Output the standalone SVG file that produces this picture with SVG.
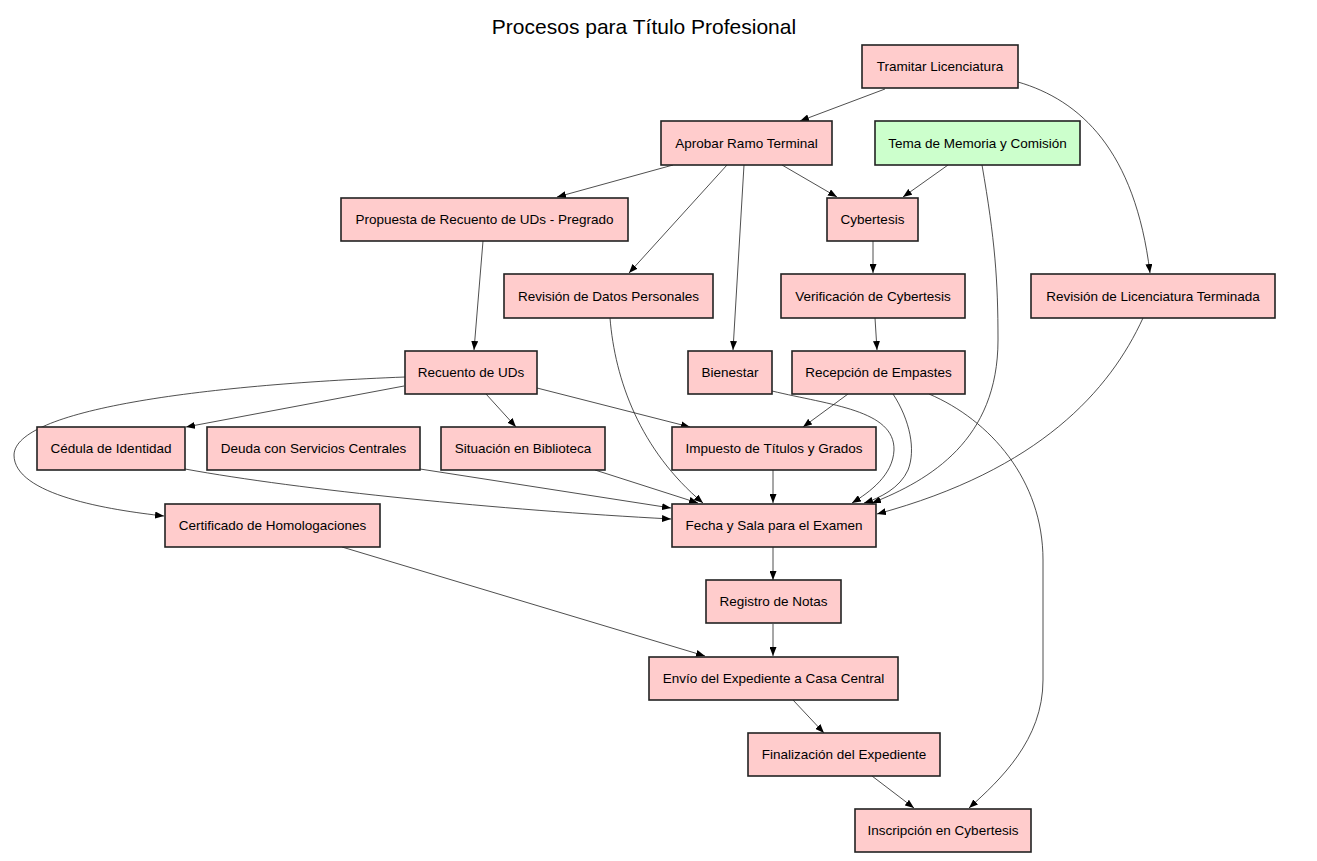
<svg xmlns="http://www.w3.org/2000/svg" width="1317" height="861" viewBox="0 0 1317 861">
<style>
.n rect{fill:#ffcccc;stroke:#222;stroke-width:1.6}
.n.g rect{fill:#ccffcc}
.n text{font-family:"Liberation Sans",Arial,sans-serif;font-size:13.5px;fill:#000;text-anchor:middle;dominant-baseline:central}
.e path{fill:none;stroke:#222;stroke-width:0.8;marker-end:url(#ah)}
.title{font-family:"Liberation Sans",Arial,sans-serif;font-size:21px;fill:#000;text-anchor:middle}
</style>
<defs>
<marker id="ah" markerUnits="userSpaceOnUse" markerWidth="9" markerHeight="7" refX="9" refY="3.5" orient="auto">
<path d="M0,0 L9,3.5 L0,7 z" fill="#000"/>
</marker>
</defs>
<rect width="1317" height="861" fill="#fff"/>
<text class="title" x="644" y="34">Procesos para Título Profesional</text>
<g class="e" id="edges">
<path d="M885,89 L800,121"/>
<path d="M1018,82 C1080,100 1135,150 1150,273"/>
<path d="M673,165 L557,197"/>
<path d="M727,165 L629,273"/>
<path d="M744,165 L733,350"/>
<path d="M782,165 L837,197"/>
<path d="M948,165 L903,197"/>
<path d="M982,165 C995,240 998,280 998,340 C998,440 930,480 872,503"/>
<path d="M873,241 L873,273"/>
<path d="M875,318 L877,350"/>
<path d="M483,241 L474,350"/>
<path d="M610,318 C615,380 640,450 703,503"/>
<path d="M1143,318 C1110,390 1040,470 877,514"/>
<path d="M404,386 L186,427"/>
<path d="M405,377 C200,385 15,410 14,455 C14,495 110,510 164,516"/>
<path d="M486,394 L516,427"/>
<path d="M537,388 L690,427"/>
<path d="M772,391 C830,405 895,410 894,450 C893,475 870,492 852,503"/>
<path d="M848,394 L803,427"/>
<path d="M893,394 C910,420 916,450 908,470 C900,488 880,498 864,503"/>
<path d="M929,394 C990,420 1043,480 1043,560 L1043,680 C1043,740 1000,780 969,808"/>
<path d="M185,469 C300,490 500,510 671,519"/>
<path d="M420,469 L671,508"/>
<path d="M595,470 L698,503"/>
<path d="M773,470 L773,503"/>
<path d="M342,547 L705,656"/>
<path d="M773,547 L773,580"/>
<path d="M773,624 L773,656"/>
<path d="M793,700 L824,733"/>
<path d="M872,776 L914,808"/>
</g>
<g class="n" id="n-tramitar"><rect x="862" y="45" width="156" height="43"/><text x="940" y="66.5">Tramitar Licenciatura</text></g>
<g class="n" id="n-aprobar"><rect x="661" y="121" width="171" height="44"/><text x="746.5" y="143">Aprobar Ramo Terminal</text></g>
<g class="n g" id="n-tema"><rect x="875" y="121" width="205" height="44"/><text x="977.5" y="143">Tema de Memoria y Comisión</text></g>
<g class="n" id="n-propuesta"><rect x="341" y="198" width="287" height="43"/><text x="484.5" y="219.5">Propuesta de Recuento de UDs - Pregrado</text></g>
<g class="n" id="n-cybertesis"><rect x="827" y="198" width="91" height="43"/><text x="872.5" y="219.5">Cybertesis</text></g>
<g class="n" id="n-revdatos"><rect x="504" y="274" width="209" height="44"/><text x="608.5" y="296">Revisión de Datos Personales</text></g>
<g class="n" id="n-verif"><rect x="781" y="274" width="184" height="44"/><text x="873" y="296">Verificación de Cybertesis</text></g>
<g class="n" id="n-revlic"><rect x="1031" y="274" width="244" height="44"/><text x="1153" y="296">Revisión de Licenciatura Terminada</text></g>
<g class="n" id="n-recuento"><rect x="405" y="351" width="132" height="43"/><text x="471" y="372.5">Recuento de UDs</text></g>
<g class="n" id="n-bienestar"><rect x="688" y="351" width="84" height="43"/><text x="730" y="372.5">Bienestar</text></g>
<g class="n" id="n-recepcion"><rect x="792" y="351" width="173" height="43"/><text x="878.5" y="372.5">Recepción de Empastes</text></g>
<g class="n" id="n-cedula"><rect x="37" y="427" width="148" height="43"/><text x="111" y="448.5">Cédula de Identidad</text></g>
<g class="n" id="n-deuda"><rect x="207" y="427" width="213" height="43"/><text x="313.5" y="448.5">Deuda con Servicios Centrales</text></g>
<g class="n" id="n-situacion"><rect x="441" y="427" width="164" height="43"/><text x="523" y="448.5">Situación en Biblioteca</text></g>
<g class="n" id="n-impuesto"><rect x="672" y="427" width="204" height="43"/><text x="774" y="448.5">Impuesto de Títulos y Grados</text></g>
<g class="n" id="n-certificado"><rect x="165" y="504" width="215" height="43"/><text x="272.5" y="525.5">Certificado de Homologaciones</text></g>
<g class="n" id="n-fecha"><rect x="672" y="504" width="204" height="43"/><text x="774" y="525.5">Fecha y Sala para el Examen</text></g>
<g class="n" id="n-registro"><rect x="706" y="580" width="135" height="43"/><text x="773.5" y="601.5">Registro de Notas</text></g>
<g class="n" id="n-envio"><rect x="649" y="657" width="249" height="43"/><text x="773.5" y="678.5">Envío del Expediente a Casa Central</text></g>
<g class="n" id="n-final"><rect x="748" y="733" width="192" height="43"/><text x="844" y="754.5">Finalización del Expediente</text></g>
<g class="n" id="n-inscripcion"><rect x="855" y="809" width="176" height="43"/><text x="943" y="830.5">Inscripción en Cybertesis</text></g>
</svg>
